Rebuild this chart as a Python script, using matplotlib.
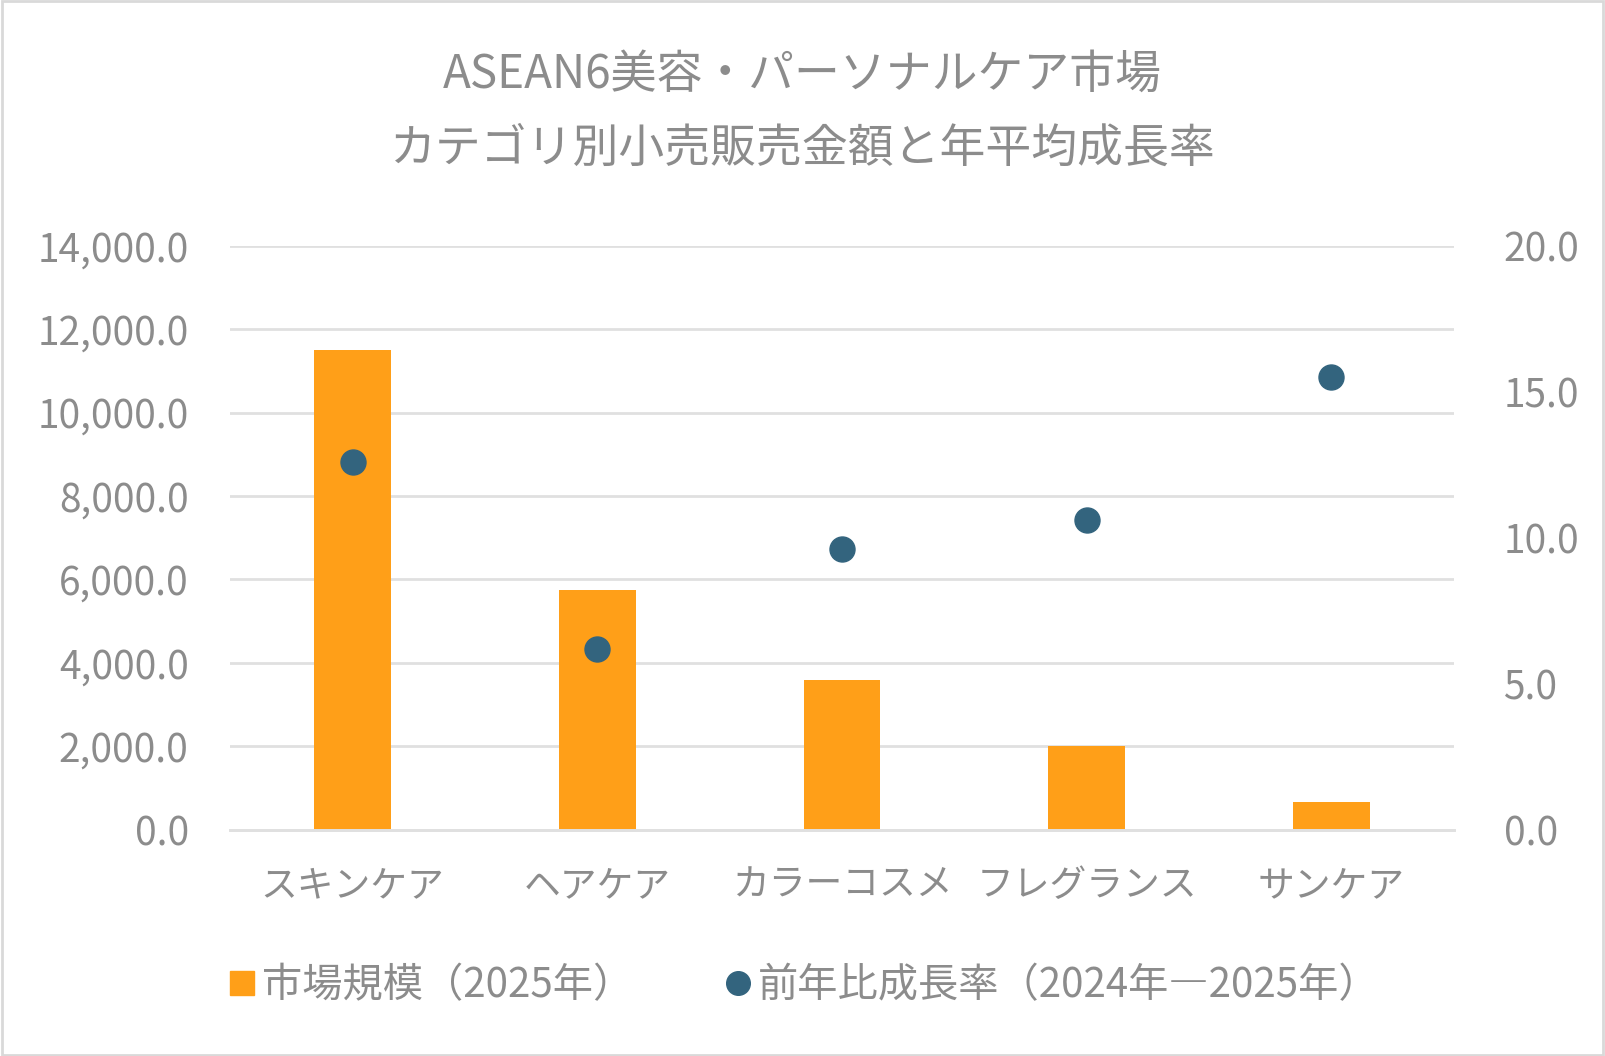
import matplotlib
matplotlib.use("Agg")
import matplotlib.pyplot as plt
from matplotlib.lines import Line2D
from matplotlib.patches import Rectangle
import numpy as np

plt.rcParams['font.family'] = ['Noto Sans CJK JP', 'DejaVu Sans']

categories = ['スキンケア', 'ヘアケア', 'カラーコスメ', 'フレグランス', 'サンケア']
market_size = [11500, 5750, 3600, 2000, 670]
growth_rate = [12.6, 6.2, 9.6, 10.6, 15.5]

title = 'ASEAN6美容・パーソナルケア市場\nカテゴリ別小売販売金額と年平均成長率'
bar_label = '市場規模（2025年）'
dot_label = '前年比成長率（2024年―2025年）'

bar_color = '#FF9F18'
dot_color = '#33647E'
text_color = '#8C8C8C'
grid_color = '#E0E0E0'

# layout measured on a 1568x1032 view of the reference
W, H = 1568, 1032

fig = plt.figure(figsize=(16.05, 10.56), dpi=100)
ax = fig.add_axes([225 / W, 1 - 811 / H, 1195 / W, 571 / H])
ax2 = ax.twinx()

x = np.arange(len(categories))
ax.bar(x, market_size, width=0.314, color=bar_color, zorder=2)
ax2.plot(x, growth_rate, 'o', color=dot_color, markersize=18, zorder=3)

ax.set_xlim(-0.5, 4.5)
ax.set_ylim(0, 14000)
ax2.set_ylim(0, 20)
ax.set_yticks(np.arange(0, 14001, 2000))
ax2.set_yticks(np.arange(0, 20.1, 5))
ax.set_yticklabels([f'{v:,.1f}' for v in np.arange(0, 14001, 2000)])
ax2.set_yticklabels([f'{v:.1f}' for v in np.arange(0, 20.1, 5)])
ax.set_xticks(x)
ax.set_xticklabels(categories)

ax.yaxis.grid(True, color=grid_color, linewidth=2, zorder=0)
ax.set_axisbelow(True)
for a in (ax, ax2):
    for s in ('top', 'left', 'right'):
        a.spines[s].set_visible(False)
    a.spines['bottom'].set_color(grid_color)
    a.spines['bottom'].set_linewidth(2)
    a.tick_params(length=0, colors=text_color, labelsize=28)
ax.tick_params(axis='x', labelsize=26.5, pad=26)
ax.tick_params(axis='y', pad=30)
ax2.tick_params(axis='y', pad=36)
ax2.set_zorder(ax.get_zorder() + 1)
ax2.patch.set_visible(False)

fig.text(0.5, 1 - 109 / H, title, ha='center', va='center', fontsize=33,
         color=text_color, linespacing=1.7)

handles = [
    Line2D([], [], marker='s', linestyle='none', color=bar_color, markersize=17),
    Line2D([], [], marker='o', linestyle='none', color=dot_color, markersize=17),
]
fig.legend(handles, [bar_label, dot_label], loc='center', bbox_to_anchor=(0.5, 1 - 963 / H),
           ncol=2, frameon=False, fontsize=29, labelcolor=text_color, handletextpad=0.1,
           columnspacing=2.2, handlelength=0.8)

fig.patches.append(Rectangle((0.001, 0.001), 0.998, 0.998, transform=fig.transFigure,
                             fill=False, edgecolor='#D9D9D9', linewidth=2))

fig.savefig('out.png', dpi=100)
